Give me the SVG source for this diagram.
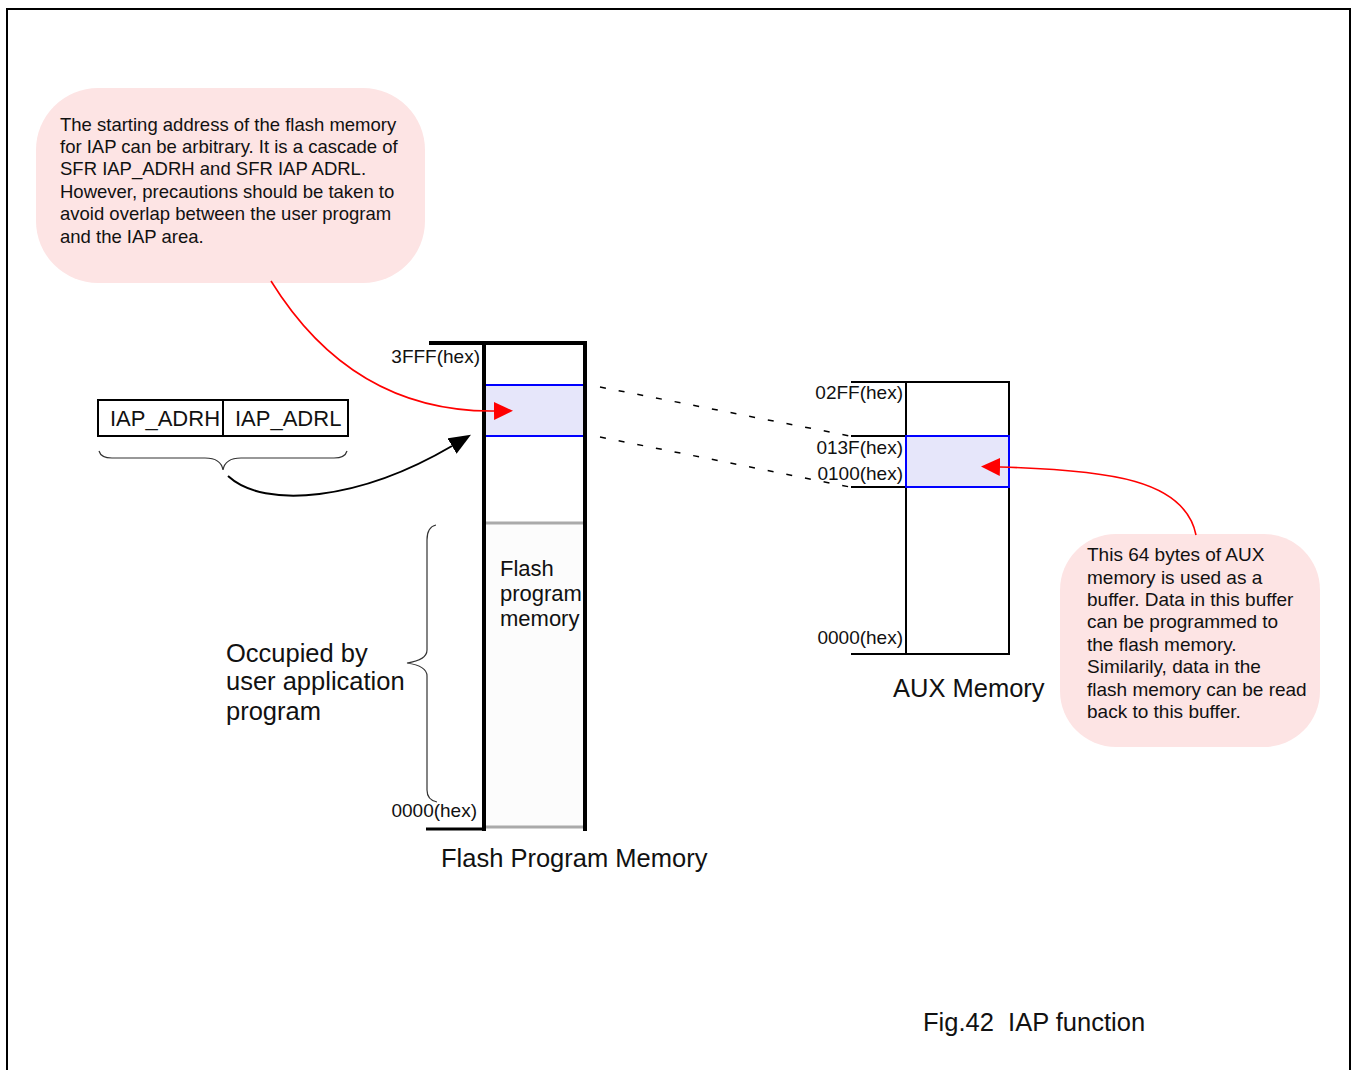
<svg xmlns="http://www.w3.org/2000/svg" width="1352" height="1070" viewBox="0 0 1352 1070">
<style>
text{font-family:"Liberation Sans",Arial,sans-serif;fill:#111}
.call{font-size:18.5px}
.call2{font-size:19px}
.hex{font-size:19px}
.big{font-size:25.5px}
.red{stroke:#f00;stroke-width:1.6;fill:none}
</style>
<defs>
<marker id="arr" viewBox="0 0 10 10" preserveAspectRatio="none" refX="0" refY="5" markerWidth="19" markerHeight="18" markerUnits="userSpaceOnUse" orient="auto">
<path d="M0,0 L10,5 L0,10 z" fill="#f00"/>
</marker>
<marker id="ab" viewBox="0 0 10 10" preserveAspectRatio="none" refX="0" refY="5" markerWidth="22" markerHeight="18" markerUnits="userSpaceOnUse" orient="auto">
<path d="M0,0 L10,5 L0,10 z" fill="#000"/>
</marker>
</defs>
<rect width="1352" height="1070" fill="#fff"/>
<path d="M7,1072 V9 H1350 V1072" fill="none" stroke="#000" stroke-width="2"/>

<g id="callout-top">
<rect x="36" y="88" width="389" height="195" rx="62" fill="#fde4e4"/>
<text class="call" x="60" y="131">The starting address of the flash memory</text>
<text class="call" x="60" y="153">for IAP can be arbitrary. It is a cascade of</text>
<text class="call" x="60" y="175">SFR IAP_ADRH and SFR IAP ADRL.</text>
<text class="call" x="60" y="198">However, precautions should be taken to</text>
<text class="call" x="60" y="220">avoid overlap between the user program</text>
<text class="call" x="60" y="243">and the IAP area.</text>
</g>

<g id="callout-aux">
<rect x="1060" y="534" width="260" height="213" rx="56" fill="#fde4e4"/>
<text class="call2" x="1087" y="561">This 64 bytes of AUX</text>
<text class="call2" x="1087" y="584">memory is used as a</text>
<text class="call2" x="1087" y="606">buffer. Data in this buffer</text>
<text class="call2" x="1087" y="628">can be programmed to</text>
<text class="call2" x="1087" y="651">the flash memory.</text>
<text class="call2" x="1087" y="673">Similarily, data in the</text>
<text class="call2" x="1087" y="696">flash memory can be read</text>
<text class="call2" x="1087" y="718">back to this buffer.</text>
</g>

<g id="iap-register">
<rect x="98" y="400" width="250" height="36" fill="none" stroke="#000" stroke-width="2"/>
<line x1="223" y1="399" x2="223" y2="437" stroke="#000" stroke-width="2"/>
<text x="110" y="426" font-size="22">IAP_ADRH</text>
<text x="235" y="426" font-size="22">IAP_ADRL</text>
<path d="M99,451 Q101,458 112,458 H205 Q221,458 223,470 Q225,458 241,458 H334 Q345,458 347,451" fill="none" stroke="#333" stroke-width="1.2"/>
</g>

<g id="flash-memory">
<rect x="486" y="523" width="97" height="305" fill="#fcfcfc"/>
<rect x="486" y="385" width="97" height="51" fill="#e6e6fa"/>
<line x1="486" y1="523" x2="583" y2="523" stroke="#aaa" stroke-width="3"/>
<line x1="486" y1="827" x2="583" y2="827" stroke="#aaa" stroke-width="3"/>
<line x1="484" y1="385" x2="587" y2="385" stroke="#00f" stroke-width="2"/>
<line x1="482" y1="436" x2="587" y2="436" stroke="#00f" stroke-width="2"/>
<line x1="429" y1="343" x2="587" y2="343" stroke="#000" stroke-width="4"/>
<line x1="484" y1="341" x2="484" y2="831" stroke="#000" stroke-width="4"/>
<line x1="585" y1="341" x2="585" y2="831" stroke="#000" stroke-width="4"/>
<line x1="426" y1="829" x2="482" y2="829" stroke="#000" stroke-width="3"/>
<text class="hex" x="480" y="363" text-anchor="end">3FFF(hex)</text>
<text class="hex" x="477" y="817" text-anchor="end">0000(hex)</text>
<text x="500" y="576" font-size="22">Flash</text>
<text x="500" y="601" font-size="22">program</text>
<text x="500" y="626" font-size="22">memory</text>
<text class="big" x="441" y="867">Flash Program Memory</text>
</g>

<g id="user-program">
<path d="M436,525 Q427,527 427,540 V650 Q427,660 407,663 Q427,666 427,676 V790 Q427,800 437,802" fill="none" stroke="#333" stroke-width="1.2"/>
<text class="big" x="226" y="662">Occupied by</text>
<text class="big" x="226" y="690">user application</text>
<text class="big" x="226" y="720">program</text>
</g>

<g id="aux-memory">
<rect x="906" y="436" width="103" height="51" fill="#e6e6fa"/>
<line x1="851" y1="382" x2="1010" y2="382" stroke="#000" stroke-width="2"/>
<line x1="906" y1="382" x2="906" y2="654" stroke="#000" stroke-width="2"/>
<line x1="1009" y1="382" x2="1009" y2="654" stroke="#000" stroke-width="2"/>
<line x1="851" y1="654" x2="1010" y2="654" stroke="#000" stroke-width="2"/>
<line x1="851" y1="436" x2="906" y2="436" stroke="#000" stroke-width="2"/>
<line x1="851" y1="487" x2="906" y2="487" stroke="#000" stroke-width="2"/>
<rect x="906" y="436" width="103" height="51" fill="none" stroke="#00f" stroke-width="2"/>
<text class="hex" x="903" y="399" text-anchor="end">02FF(hex)</text>
<text class="hex" x="903" y="454" text-anchor="end">013F(hex)</text>
<text class="hex" x="903" y="480" text-anchor="end">0100(hex)</text>
<text class="hex" x="903" y="644" text-anchor="end">0000(hex)</text>
<text class="big" x="893" y="697">AUX Memory</text>
</g>

<g id="connectors">
<line x1="600" y1="387" x2="850" y2="436" stroke="#000" stroke-width="1.5" stroke-dasharray="6 13"/>
<line x1="600" y1="437" x2="850" y2="487" stroke="#000" stroke-width="1.5" stroke-dasharray="6 13"/>
<path d="M271,281 C320,360 390,412 494,411" class="red" marker-end="url(#arr)"/>
<path d="M1196,535 C1185,480 1110,470 1000,467" class="red" marker-end="url(#arr)"/>
<path d="M228,476 C265,510 360,500 452,446" fill="none" stroke="#000" stroke-width="2" marker-end="url(#ab)"/>
</g>

<text class="big" x="923" y="1031" style="white-space:pre" xml:space="preserve">Fig.42  IAP function</text>
</svg>
